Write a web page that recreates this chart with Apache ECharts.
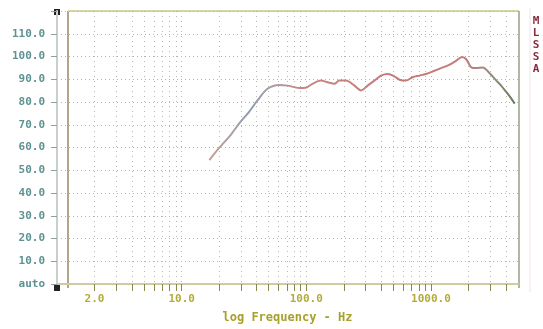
<!DOCTYPE html>
<html>
<head>
<meta charset="utf-8">
<script src="https://cdn.jsdelivr.net/npm/echarts@6/dist/echarts.min.js"></script>
<style>html,body{margin:0;padding:0;background:#fff}#c{width:543px;height:329px}</style>
</head>
<body>
<div id="c"></div>
<script>
// Frequency (Hz) and level values
var freqHz = [16.7, 20, 24.8, 29, 34.8, 40.6, 48.9, 60.7, 70.8, 87.6, 99, 112, 131, 148, 168, 184, 208, 244, 275, 311, 352, 398, 450, 509, 560, 631, 713, 806, 911, 1030, 1205, 1400, 1590, 1780, 1920, 2110, 2300, 2610, 2960, 3350, 3660, 4020, 4420, 4700];
var levelValues = [54.5, 59.8, 65.6, 70.6, 75.7, 80.7, 85.8, 87.5, 87.2, 86.2, 86.3, 88.0, 89.4, 88.7, 88.0, 89.4, 89.4, 87.2, 85.1, 87.2, 89.4, 91.6, 92.3, 91.3, 89.8, 89.4, 90.9, 91.6, 92.3, 93.4, 94.9, 96.3, 98.1, 99.8, 98.8, 95.2, 94.9, 95.2, 92.6, 89.4, 87.2, 84.4, 81.5, 79.3];
var xTickValues = [2,3,4,5,6,7,8,9,10,20,30,40,50,60,70,80,90,100,200,300,400,500,600,700,800,900,1000,2000,3000,4000];
var xLabelValues = [2, 10, 100, 1000];
var yTickLabels = ['auto','10.0','20.0','30.0','40.0','50.0','60.0','70.0','80.0','90.0','100.0','110.0',''];
var xTitle = 'log Frequency - Hz';
var sideText = ['M','L','S','S','A'];

var data = freqHz.map(function (f, i) { return [f, levelValues[i]]; });
var chart = echarts.init(document.getElementById('c'));
var mono = '"DejaVu Sans Mono", monospace';
chart.setOption({
  animation: false,
  backgroundColor: '#ffffff',
  grid: { left: 57, right: 25, top: 11, bottom: 41 },
  xAxis: {
    type: 'log', logBase: 10, min: 1, max: 5000,
    axisLine: { show: true, lineStyle: { color: '#cfcba0', width: 2 } },
    axisTick: { show: true, length: 7, customValues: xTickValues, lineStyle: { color: '#8a8650', width: 1 } },
    axisLabel: { customValues: xLabelValues, margin: 10, color: '#b4ac3a', fontFamily: mono, fontWeight: 'bold', fontSize: 11,
      formatter: function (v) { return Number(v).toFixed(1); } },
    splitLine: { show: true, lineStyle: { color: '#b8b8b0', type: [1, 4], width: 1 } },
    minorTick: { show: false }, minorSplitLine: { show: false },
    name: xTitle, nameLocation: 'middle', nameGap: 28,
    nameTextStyle: { color: '#a8a02c', fontFamily: mono, fontWeight: 'bold', fontSize: 12 }
  },
  yAxis: {
    type: 'value', min: 0, max: 120, interval: 10,
    axisLine: { show: true, lineStyle: { color: '#c8d0c8', width: 2 } },
    axisTick: { show: true, length: 6, lineStyle: { color: '#90a0a0' } },
    axisLabel: { margin: 12, color: '#5e9292', fontFamily: mono, fontWeight: 'bold', fontSize: 11,
      formatter: function (v) { return yTickLabels[Math.round(v / 10)]; } },
    splitLine: { show: true, lineStyle: { color: '#b4b4a8', type: [1, 3], width: 1 } }
  },
  series: [{
    type: 'line', data: data, showSymbol: false, smooth: 0.3,
    lineStyle: { width: 2, color: new echarts.graphic.LinearGradient(0, 0, 1, 0, [
      { offset: 0, color: '#c8a08c' },
      { offset: 0.08, color: '#a8a0a4' },
      { offset: 0.14, color: '#8e9cae' },
      { offset: 0.22, color: '#b09ca4' },
      { offset: 0.3, color: '#c88680' },
      { offset: 0.6, color: '#c67a78' },
      { offset: 0.83, color: '#c47a7a' },
      { offset: 0.9, color: '#a08a7c' },
      { offset: 0.95, color: '#808a70' },
      { offset: 1, color: '#5e7458' }
    ]) }
  }],
  graphic: [
    { type: 'line', shape: { x1: 68, y1: 11, x2: 68, y2: 288 }, style: { stroke: '#b0a888', lineWidth: 2 } },
    { type: 'line', shape: { x1: 68, y1: 11, x2: 519, y2: 11 }, style: { stroke: '#d4d6a8', lineWidth: 2 } },
    { type: 'line', shape: { x1: 519, y1: 11, x2: 519, y2: 288 }, style: { stroke: '#b0b8a4', lineWidth: 2 } },
    { type: 'line', shape: { x1: 530, y1: 8, x2: 530, y2: 292 }, style: { stroke: '#f4e4e4', lineWidth: 1 } },
    { type: 'rect', shape: { x: 54, y: 9, width: 6, height: 6 }, style: { fill: '#222' } },
    { type: 'rect', shape: { x: 54, y: 285, width: 6, height: 6 }, style: { fill: '#222' } },
    { type: 'text', x: 536, y: 15, style: { text: sideText.join('\n'), fill: '#8a2a40', font: 'bold 11px ' + mono, lineHeight: 12, align: 'center' } }
  ]
});
</script>
</body>
</html>
